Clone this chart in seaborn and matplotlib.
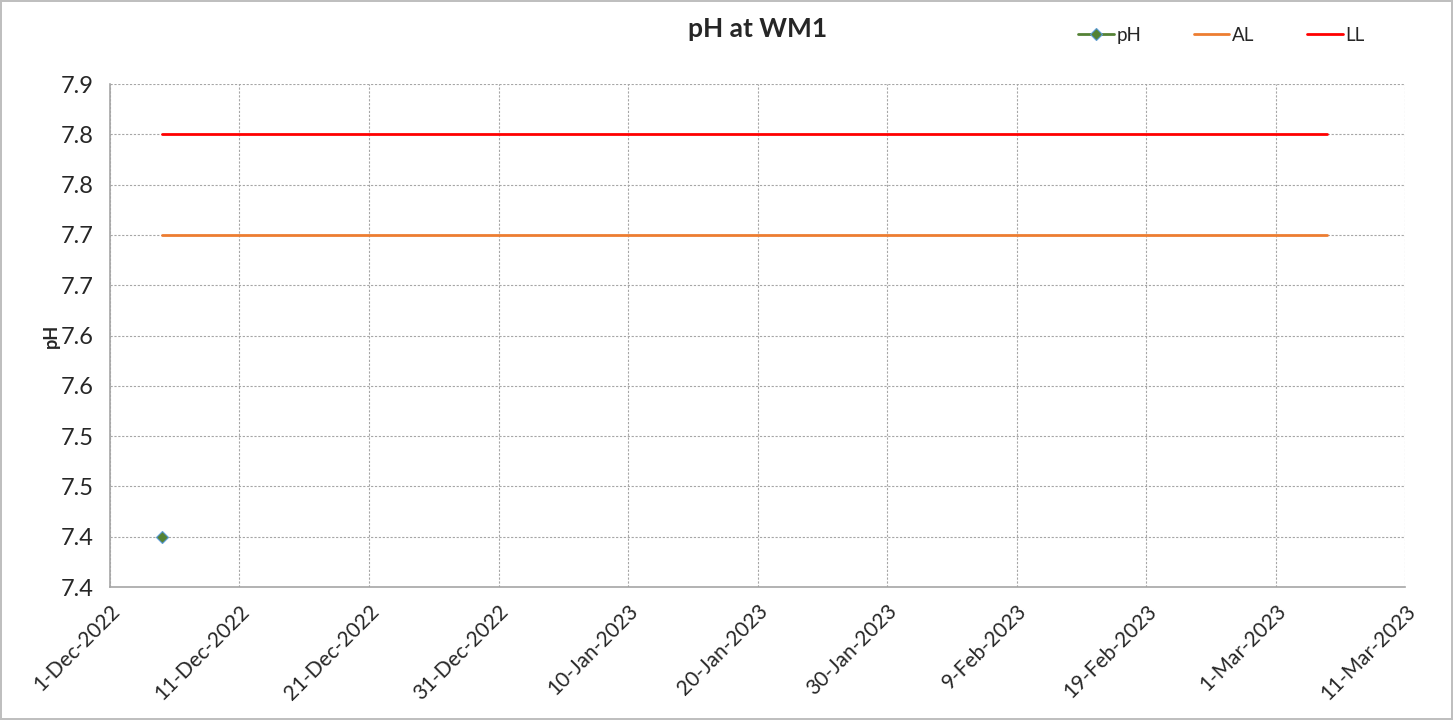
import pandas as pd
import seaborn as sns
import matplotlib
matplotlib.use("Agg")
import matplotlib.pyplot as plt
import matplotlib.dates as mdates
from matplotlib.ticker import FuncFormatter, MultipleLocator

# ---- data ----
ph_dates = ["2022-12-05"]
ph_values = [7.40]

limit_dates = ["2022-12-05", "2023-03-05"]
al_values = [7.70, 7.70]
ll_values = [7.80, 7.80]

x_start, x_end = "2022-12-01", "2023-03-11"
y_min, y_max = 7.35, 7.85

ph_df = pd.DataFrame({"date": pd.to_datetime(ph_dates), "pH": ph_values})
lim_df = pd.DataFrame({"date": pd.to_datetime(limit_dates), "AL": al_values, "LL": ll_values})

sns.set_style("white")
plt.rcParams["font.family"] = ["Lato", "DejaVu Sans"]

fig = plt.figure(figsize=(14.53, 7.2), dpi=100)
fig.patch.set_edgecolor("#bfbfbf")
fig.patch.set_linewidth(1.5)
ax = fig.add_axes([0.0757, 0.1847, 0.8913, 0.6986])

sns.lineplot(data=ph_df, x="date", y="pH", ax=ax, color="#548235", marker="D",
             markersize=6, markeredgecolor="#5b9bd5", markeredgewidth=0.8, lw=2, label="pH")
sns.lineplot(data=lim_df, x="date", y="AL", ax=ax, color="#ed7d31", lw=2, label="AL")
sns.lineplot(data=lim_df, x="date", y="LL", ax=ax, color="#ff0000", lw=2, label="LL")

ax.set_xlim(pd.Timestamp(x_start), pd.Timestamp(x_end))
ax.set_ylim(y_min, y_max)
ax.set_xticks(pd.date_range(x_start, x_end, freq="10D"))
ax.xaxis.set_major_formatter(FuncFormatter(
    lambda v, p: (lambda d: f"{d.day}-{d.strftime('%b-%Y')}")(mdates.num2date(v))))
ax.yaxis.set_major_locator(MultipleLocator(0.05))
ax.yaxis.set_major_formatter(FuncFormatter(lambda v, p: f"{int(v * 10 + 0.5 + 1e-6) / 10:.1f}"))

ax.grid(True, color="#a6a6a6", linestyle=(0, (2, 1.5)), linewidth=0.8)
for s in ["top", "right"]:
    ax.spines[s].set_visible(False)
for s in ["left", "bottom"]:
    ax.spines[s].set_color("#a6a6a6")
    ax.spines[s].set_linewidth(1.2)
ax.tick_params(axis="both", direction="out", length=6, color="#a6a6a6", width=1)
ax.tick_params(axis="y", labelsize=17, pad=6)
ax.tick_params(axis="x", labelsize=15, pad=4)
plt.setp(ax.get_xticklabels(), rotation=45, ha="right", rotation_mode="anchor")

ax.set_xlabel("")
ax.set_ylabel("pH", fontsize=13, fontweight="bold", labelpad=0)
ax.set_title("pH at WM1", fontsize=19, fontweight="bold", pad=34)

ax.legend(loc="center right", bbox_to_anchor=(0.982, 1.097), ncol=3, frameon=False,
          fontsize=13.5, handlelength=1.9, columnspacing=2.8, handletextpad=0.15)

fig.savefig("out.png", dpi=100, edgecolor=fig.get_edgecolor())
